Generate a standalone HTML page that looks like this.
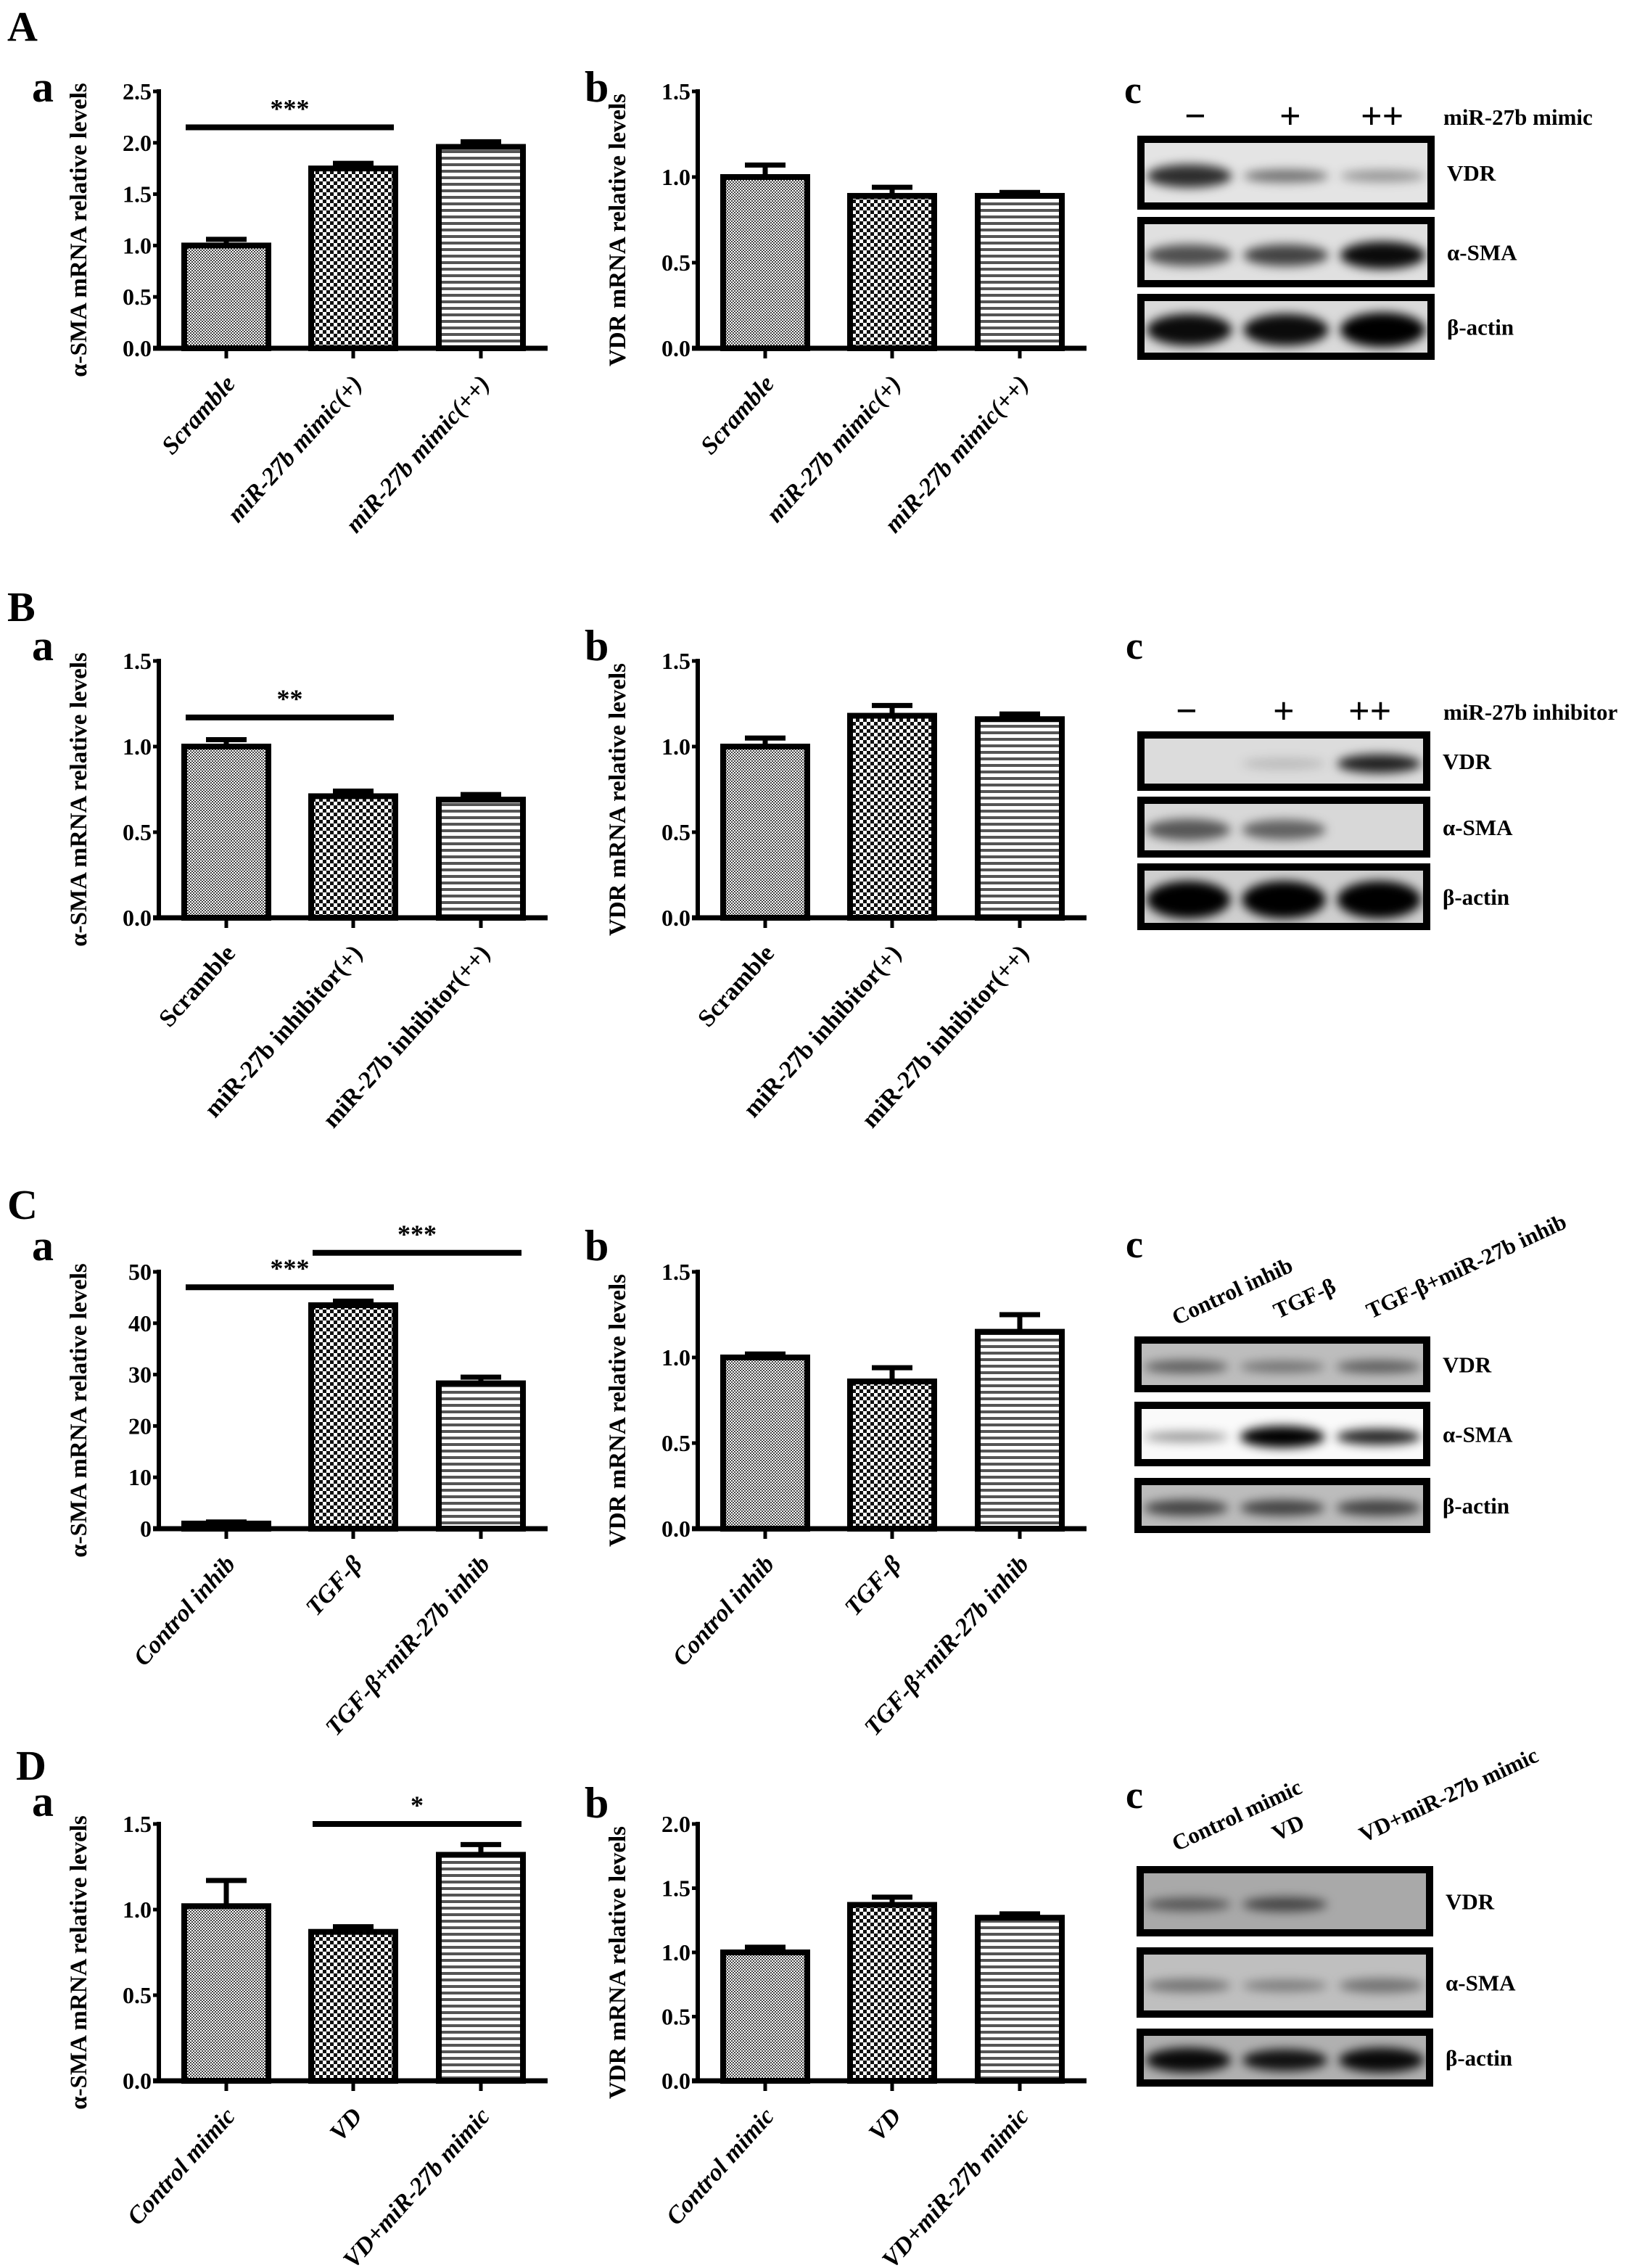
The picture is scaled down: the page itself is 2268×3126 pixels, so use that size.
<!DOCTYPE html>
<html><head><meta charset="utf-8">
<style>
html,body{margin:0;padding:0;background:#fff;}
svg{display:block;font-family:"Liberation Serif",serif;font-weight:bold;}
</style></head>
<body>
<svg id="fig" width="2268" height="3126" viewBox="0 0 2268 3126" xmlns="http://www.w3.org/2000/svg">
<defs>
<pattern id="p1" width="4" height="4" patternUnits="userSpaceOnUse"><rect width="4" height="4" fill="#fff"/><rect width="2" height="2" fill="#444"/><rect x="2" y="2" width="2" height="2" fill="#444"/></pattern>
<pattern id="p2" width="10" height="10" patternUnits="userSpaceOnUse"><rect width="10" height="10" fill="#fff"/><rect width="5" height="5" fill="#111"/><rect x="5" y="5" width="5" height="5" fill="#111"/></pattern>
<pattern id="p3" width="10" height="9" patternUnits="userSpaceOnUse"><rect width="10" height="9" fill="#fff"/><rect width="10" height="4" fill="#555"/></pattern>
<filter id="blur" x="-20%" y="-100%" width="140%" height="300%"><feGaussianBlur stdDeviation="7"/></filter>
</defs>
<g id="charts"></g>
<g id="blots"></g>
</svg>
<script>
const NS="http://www.w3.org/2000/svg";
// ---- data ----
const catsA=["Scramble","miR-27b mimic(+)","miR-27b mimic(++)"];
const catsB=["Scramble","miR-27b inhibitor(+)","miR-27b inhibitor(++)"];
const catsC=["Control inhib","TGF-β","TGF-β+miR-27b inhib"];
const catsD=["Control mimic","VD","VD+miR-27b mimic"];
const valsAa=[1.0,1.75,1.96]; const errAa=[0.06,0.05,0.05];
const valsAb=[1.0,0.89,0.89]; const errAb=[0.07,0.05,0.02];
const valsBa=[1.0,0.71,0.69]; const errBa=[0.04,0.03,0.03];
const valsBb=[1.0,1.18,1.16]; const errBb=[0.05,0.06,0.03];
const valsCa=[1.0,43.5,28.3]; const errCa=[0.3,0.8,1.2];
const valsCb=[1.0,0.86,1.15]; const errCb=[0.02,0.08,0.10];
const valsDa=[1.02,0.87,1.32]; const errDa=[0.15,0.03,0.06];
const valsDb=[1.0,1.37,1.27]; const errDb=[0.04,0.06,0.03];
const ticksA_a=["0.0","0.5","1.0","1.5","2.0","2.5"];
const ticks15=["0.0","0.5","1.0","1.5"];
const ticksC_a=["0","10","20","30","40","50"];
const ticks20=["0.0","0.5","1.0","1.5","2.0"];

function el(tag,attrs,parent,text){const e=document.createElementNS(NS,tag);for(const k in attrs)e.setAttribute(k,attrs[k]);if(text!==undefined)e.textContent=text;(parent||document.getElementById('charts')).appendChild(e);return e;}

const pats=["url(#p1)","url(#p2)","url(#p3)"];
function chart(id,ax,yTop,yZero,ticks,cats,vals,errs,title,italic,sigs){
  const g=el('g',{});
  
  
  const ymax=parseFloat(ticks[ticks.length-1]);
  const Y=v=>yZero-(v/ymax)*(yZero-yTop);
  const centers=[ax+93,ax+268,ax+444];
  const X=i=>centers[i];
  vals.forEach((v,i)=>{
    const top=Y(v);
    const b=el('rect',{x:X(i)-58,y:top,width:116,height:Math.max(yZero-top,2),fill:pats[i],stroke:'#000','stroke-width':8},g);
    
    
    const et=Y(v+errs[i]);
    const e=el('path',{d:`M${X(i)} ${top} V${et} M${X(i)-28} ${et} H${X(i)+28}`,stroke:'#000','stroke-width':7,fill:'none'},g);
    
    
  });
  const ya=el('line',{x1:ax,y1:yTop-3,x2:ax,y2:yZero,stroke:'#000','stroke-width':6},g);
  
  
  const xa=el('line',{x1:ax-8,y1:yZero,x2:ax+536,y2:yZero,stroke:'#000','stroke-width':7},g);
  
  
  ticks.forEach(t=>{
    const yy=Y(parseFloat(t));
    el('line',{x1:ax-8,y1:yy,x2:ax,y2:yy,stroke:'#000','stroke-width':5},g);
    const tl=el('text',{x:ax-10,y:yy+11,'text-anchor':'end','font-size':32},g,t);
    
    
  });
  cats.forEach((c,i)=>{
    el('line',{x1:X(i),y1:yZero,x2:X(i),y2:yZero+14,stroke:'#000','stroke-width':5},g);
    const tx=X(i)+14, ty=yZero+50;
    const t=el('text',{x:tx,y:ty,'text-anchor':'end','font-size':34,'font-style':italic?'italic':'normal',transform:`rotate(-48 ${tx} ${ty})`},g,c);
    
    
  });
  const tx=ax-100, ty=(yTop+yZero)/2+14;
  const tt=el('text',{x:tx,y:ty,'text-anchor':'middle','font-size':33,transform:`rotate(-90 ${tx} ${ty})`},g,title);
  
  
  (sigs||[]).forEach(s=>{
    const ly=Y(s[2]);
    const l=el('line',{x1:X(s[0])-56,y1:ly,x2:X(s[1])+56,y2:ly,stroke:'#000','stroke-width':8},g);
    
    
    const st=el('text',{x:(X(s[0])+X(s[1]))/2,y:ly-14,'text-anchor':'middle','font-size':36},g,s[3]);
    
    
  });
}
const tA="α-SMA mRNA relative levels", tV="VDR mRNA relative levels";
chart('chart-A-a',219,126,480,ticksA_a,catsA,valsAa,errAa,tA,true,[[0,1,2.15,"***"]]);
chart('chart-A-b',962,126,480,ticks15,catsA,valsAb,errAb,tV,true,[]);
chart('chart-B-a',219,911,1265,ticks15,catsB,valsBa,errBa,tA,false,[[0,1,1.17,"**"]]);
chart('chart-B-b',962,911,1265,ticks15,catsB,valsBb,errBb,tV,false,[]);
chart('chart-C-a',219,1753,2107,ticksC_a,catsC,valsCa,errCa,tA,true,[[0,1,47,"***"],[1,2,53.7,"***"]]);
chart('chart-C-b',962,1753,2107,ticks15,catsC,valsCb,errCb,tV,true,[]);
chart('chart-D-a',219,2514,2868,ticks15,catsD,valsDa,errDa,tA,true,[[1,2,1.5,"*"]]);
chart('chart-D-b',962,2514,2868,ticks20,catsD,valsDb,errDb,tV,true,[]);

const letters=[["A",10,56,58],["a",44,140,60],["b",806,140,60],["c",1550,142,54],
["B",10,856,58],["a",44,910,60],["b",806,910,60],["c",1552,908,54],
["C",10,1680,58],["a",44,1737,60],["b",806,1737,60],["c",1552,1733,54],
["D",22,2453,58],["a",44,2503,60],["b",806,2505,60],["c",1552,2492,54]];
letters.forEach(l=>{
  const t=el('text',{x:l[1],y:l[2],'font-size':l[3]},null,l[0]);
  
  
});

const B=document.getElementById('blots');
function blot(name,x,y,w,h,bg,bands,label){
  const g=el('g',{},B);
  
  
  el('rect',{x:x,y:y,width:w,height:h,fill:bg,stroke:'#000','stroke-width':10},g);
  const lw=w/3;
  bands.forEach((b,i)=>{
    if(b[0]<=0) return;
    el('ellipse',{cx:x+lw*i+lw/2,cy:y+h*0.55,rx:lw*0.44,ry:b[1],fill:'#000','fill-opacity':b[0],filter:'url(#blur)'},g);
  });
  const t=el('text',{x:x+w+22,y:y+h/2+11,'font-size':31},g,label);
  
  
}
blot('blot-A-VDR',1573,192,400,92,'#e4e4e4',[[0.8,16],[0.5,9],[0.35,8]],'VDR');
blot('blot-A-SMA',1573,304,400,87,'#e0e0e0',[[0.65,15],[0.7,15],[0.95,19]],'α-SMA');
blot('blot-A-actin',1573,410,400,81,'#dadada',[[0.95,22],[0.95,22],[1,24]],'β-actin');
blot('blot-B-VDR',1573,1013,394,72,'#dcdcdc',[[0,0],[0.15,8],[0.85,13]],'VDR');
blot('blot-B-SMA',1573,1103,394,74,'#d8d8d8',[[0.6,15],[0.55,14],[0,0]],'α-SMA');
blot('blot-B-actin',1573,1195,394,82,'#cfcfcf',[[1,26],[1,26],[1,26]],'β-actin');
blot('blot-C-VDR',1569,1847,398,67,'#bdbdbd',[[0.5,9],[0.4,8],[0.5,9]],'VDR');
blot('blot-C-SMA',1569,1937,398,79,'#fafafa',[[0.4,7],[1,15],[0.85,11]],'α-SMA');
blot('blot-C-actin',1569,2042,398,66,'#bcbcbc',[[0.65,11],[0.65,11],[0.65,11]],'β-actin');
blot('blot-D-VDR',1572,2577,399,87,'#a9a9a9',[[0.5,9],[0.6,10],[0,0]],'VDR');
blot('blot-D-SMA',1572,2689,399,87,'#bfbfbf',[[0.4,9],[0.35,8],[0.4,10]],'α-SMA');
blot('blot-D-actin',1572,2801,399,70,'#b0b0b0',[[0.95,17],[0.9,15],[0.95,17]],'β-actin');

function hdr(name,x,y,txt,rot,size){
  const t=el('text',{x:x,y:y,'font-size':size||32,transform:rot?`rotate(${rot} ${x} ${y})`:''},B,txt);
  
  
}
hdr('lane-minus',1633,177,'−',0,52);
hdr('lane-plus',1764,177,'+',0,52);
hdr('lane-plusplus',1876,177,'++',0,52);
hdr('treatment-label',1990,172,'miR-27b mimic',0,31);
hdr('lane-minus',1621,997,'−',0,52);
hdr('lane-plus',1755,997,'+',0,52);
hdr('lane-plusplus',1859,997,'++',0,52);
hdr('treatment-label',1990,992,'miR-27b inhibitor',0,31);
hdr('lane-control',1622,1827,'Control inhib',-25,31);
hdr('lane-tgf',1762,1818,'TGF-β',-25,31);
hdr('lane-tgf-inhib',1890,1818,'TGF-β+miR-27b inhib',-25,31);
hdr('lane-control',1622,2552,'Control mimic',-25,31);
hdr('lane-vd',1760,2538,'VD',-25,31);
hdr('lane-vd-mimic',1880,2540,'VD+miR-27b mimic',-25,31);
</script>
</body></html>
